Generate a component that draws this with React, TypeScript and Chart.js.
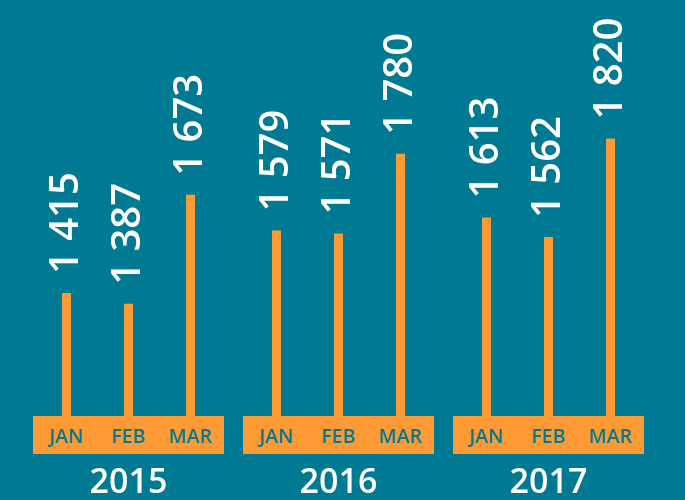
import React, { useEffect, useRef } from "react";
import { Chart, registerables } from "chart.js";

Chart.register(...registerables);

const years = ["2015", "2016", "2017"];
const months = ["JAN", "FEB", "MAR"];
const janValues = [1415, 1579, 1613];
const febValues = [1387, 1571, 1562];
const marValues = [1673, 1780, 1820];

const BG = "#007a92";
const ORANGE = "#fd9a35";
const FONT = '"Open Sans", "DejaVu Sans", sans-serif';

const fmt = (v: number) => String(v).replace(/\B(?=(\d{3})+(?!\d))/g, " ");

const decorPlugin = {
  id: "decor",
  beforeDatasetsDraw(chart: any) {
    const { ctx, chartArea, scales } = chart;
    const x = scales.x;
    ctx.save();
    ctx.fillStyle = ORANGE;
    years.forEach((_, i) => {
      const c = x.getPixelForValue(i);
      ctx.fillRect(c - 95.5, chartArea.bottom, 191, 38);
    });
    ctx.restore();
  },
  afterDatasetsDraw(chart: any) {
    const { ctx, chartArea, scales } = chart;
    const x = scales.x;
    ctx.save();
    chart.data.datasets.forEach((ds: any, di: number) => {
      const meta = chart.getDatasetMeta(di);
      meta.data.forEach((bar: any, i: number) => {
        ctx.fillStyle = BG;
        ctx.font = `600 19.5px ${FONT}`;
        ctx.textAlign = "center";
        ctx.textBaseline = "middle";
        ctx.fillText(months[di], bar.x, chartArea.bottom + 21);

        ctx.save();
        ctx.translate(bar.x, bar.y - 19);
        ctx.rotate(-Math.PI / 2);
        ctx.fillStyle = "#ffffff";
        ctx.font = `600 40px ${FONT}`;
        ctx.textAlign = "left";
        ctx.textBaseline = "middle";
        ctx.fillText(fmt(ds.data[i]), 0, 0);
        ctx.restore();
      });
    });
    ctx.fillStyle = "#ffffff";
    ctx.font = `600 34px ${FONT}`;
    ctx.textAlign = "center";
    ctx.textBaseline = "middle";
    years.forEach((y, i) => {
      ctx.fillText(y, x.getPixelForValue(i), chartArea.bottom + 67);
    });
    ctx.restore();
  },
};

export default function App() {
  const ref = useRef<HTMLCanvasElement>(null);
  useEffect(() => {
    if (!ref.current) return;
    const chart = new Chart(ref.current, {
      type: "bar",
      data: {
        labels: years,
        datasets: [
          { label: months[0], data: janValues, backgroundColor: ORANGE },
          { label: months[1], data: febValues, backgroundColor: ORANGE },
          { label: months[2], data: marValues, backgroundColor: ORANGE },
        ],
      },
      options: {
        animation: false,
        responsive: false,
        maintainAspectRatio: false,
        layout: { padding: { left: 23.5, right: 31.5, top: 0, bottom: 84 } },
        datasets: {
          bar: {
            categoryPercentage: 0.886,
            barPercentage: 0.5,
            maxBarThickness: 9,
          },
        },
        plugins: {
          legend: { display: false },
          tooltip: { enabled: false },
          title: { display: false },
        },
        scales: {
          x: { display: false, offset: true, grid: { display: false } },
          y: { display: false, min: 1093, max: 2183 },
        },
      },
      plugins: [decorPlugin],
    });
    return () => chart.destroy();
  }, []);
  return (
    <div
      style={{
        position: "fixed",
        left: 0,
        top: 0,
        width: 685,
        height: 500,
        background: BG,
        overflow: "hidden",
      }}
    >
      <canvas ref={ref} width={685} height={500} style={{ display: "block" }} />
    </div>
  );
}
